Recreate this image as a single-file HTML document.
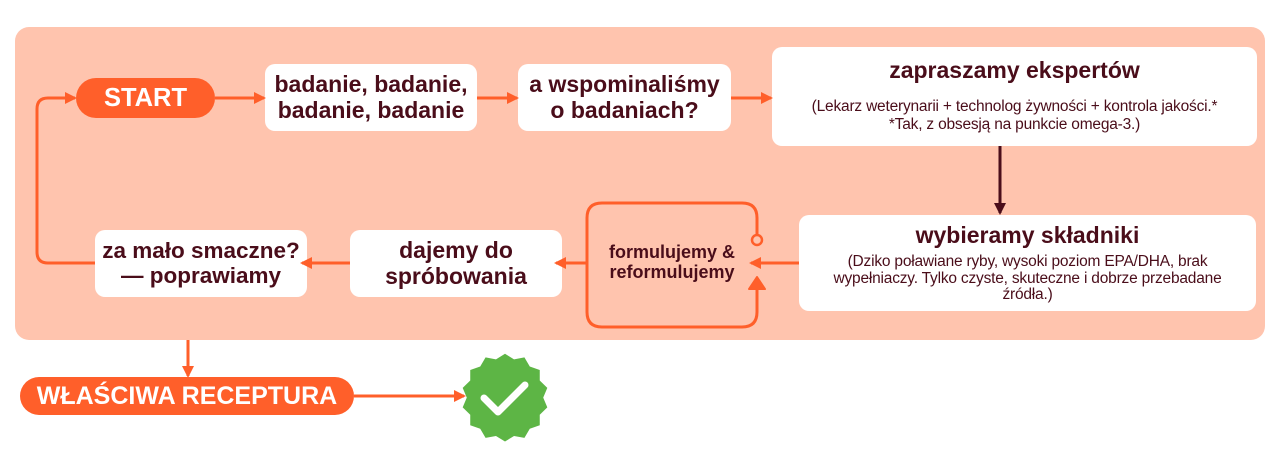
<!DOCTYPE html>
<html><head><meta charset="utf-8"><style>
body{margin:0;width:1280px;height:450px;background:#fff;font-family:"Liberation Sans","DejaVu Sans",sans-serif;position:relative;overflow:hidden}
.p{position:absolute;left:15px;top:27px;width:1250px;height:313px;background:#ffc4ae;border-radius:14px}
.b{position:absolute;background:#fff;border-radius:10px;color:#4a0d1a;font-weight:bold;text-align:center;display:flex;flex-direction:column;justify-content:center;align-items:center;line-height:1.1;white-space:nowrap}
.pill{position:absolute;background:#ff5f2a;color:#fff;font-weight:bold;display:flex;align-items:center;justify-content:center;border-radius:20px;white-space:nowrap}
.s{font-weight:normal;font-size:15.5px;line-height:1.05;margin-top:6px;letter-spacing:-0.2px}
svg{position:absolute;left:0;top:0}
</style></head><body>
<div class="p"></div>
<div class="pill" style="left:76px;top:78px;width:139px;height:40px;font-size:25.5px">START</div>
<div class="b" style="left:265px;top:64px;width:212px;height:67px;font-size:23px">badanie, badanie,<br>badanie, badanie</div>
<div class="b" style="left:518px;top:64px;width:213px;height:67px;font-size:23px">a wspominaliśmy<br>o badaniach?</div>
<div class="b" style="left:772px;top:47px;width:485px;height:99px;font-size:23px">zapraszamy ekspertów<div class="s" style="margin-top:14px;line-height:1.2">(Lekarz weterynarii + technolog żywności + kontrola jakości.*<br>*Tak, z obsesją na punkcie omega-3.)</div></div>
<div class="b" style="left:799px;top:215px;width:457px;height:96px;font-size:23px">wybieramy składniki<div class="s">(Dziko poławiane ryby, wysoki poziom EPA/DHA, brak<br>wypełniaczy. Tylko czyste, skuteczne i dobrze przebadane<br>źródła.)</div></div>
<div class="b" style="left:590px;top:235px;width:164px;height:56px;font-size:18px;background:none">formulujemy &amp;<br>reformulujemy</div>
<div class="b" style="left:350px;top:230px;width:212px;height:67px;font-size:23px">dajemy do<br>spróbowania</div>
<div class="b" style="left:95px;top:230px;width:212px;height:67px;font-size:22.5px">za mało smaczne?<br>— poprawiamy</div>
<div class="pill" style="left:20px;top:377px;width:334px;height:38px;font-size:25px">WŁAŚCIWA RECEPTURA</div>
<svg width="1280" height="450">
<defs>
<marker id="a" markerWidth="12" markerHeight="12" refX="10" refY="6" orient="auto" markerUnits="userSpaceOnUse"><path d="M0,0 L12,6 L0,12z" fill="#ff5f2a"/></marker>
<marker id="d" markerWidth="12" markerHeight="12" refX="10" refY="6" orient="auto" markerUnits="userSpaceOnUse"><path d="M0,0 L12,6 L0,12z" fill="#4a0d1a"/></marker>
</defs>
<g stroke="#ff5f2a" stroke-width="3" fill="none">
<path d="M215,98 H264" marker-end="url(#a)"/>
<path d="M477,98 H517" marker-end="url(#a)"/>
<path d="M731,98 H771" marker-end="url(#a)"/>
<path d="M799,263 H751" marker-end="url(#a)"/>
<path d="M587,263 H556" marker-end="url(#a)"/>
<path d="M350,263 H302" marker-end="url(#a)"/>
<path d="M95,263 H48 Q37,263 37,252 V109 Q37,98 48,98 H75" marker-end="url(#a)"/>
<path d="M188,340 V376" marker-end="url(#a)"/>
<path d="M354,396 H464" marker-end="url(#a)"/>
<path d="M757,235 V218 Q757,203 742,203 H602 Q587,203 587,218 V312 Q587,327 602,327 H742 Q757,327 757,312 V285"/>
</g>
<path d="M749,289 L757,277 L765,289 Z" fill="#ff5f2a" stroke="#ff5f2a" stroke-width="2" stroke-linejoin="round"/>
<circle cx="757" cy="240" r="5" fill="#ffc4ae" stroke="#ff5f2a" stroke-width="2.5"/>
<path d="M1000,146 V213" stroke="#4a0d1a" stroke-width="3" marker-end="url(#d)"/>
<g transform="translate(505,398)">
<polygon fill="#5db545" points="0,-45 8.6,-39.7 18.5,-41.5 23.6,-32.8 33.1,-29.5 33.1,-19.5 40.3,-12.5 36.4,-3.2 40.3,6.1 33.1,13.1 33.1,23.1 23.6,26.4 18.5,35.1 8.6,33.3 0,38.6 -8.6,33.3 -18.5,35.1 -23.6,26.4 -33.1,23.1 -33.1,13.1 -40.3,6.1 -36.4,-3.2 -40.3,-12.5 -33.1,-19.5 -33.1,-29.5 -23.6,-32.8 -18.5,-41.5 -8.6,-39.7" transform="translate(0,3) scale(1.05)"/>
<path d="M-21,0 L-7,14 L20,-13" stroke="#fff" stroke-width="7" fill="none" stroke-linecap="round" stroke-linejoin="round"/>
</g>
</svg>
</body></html>
